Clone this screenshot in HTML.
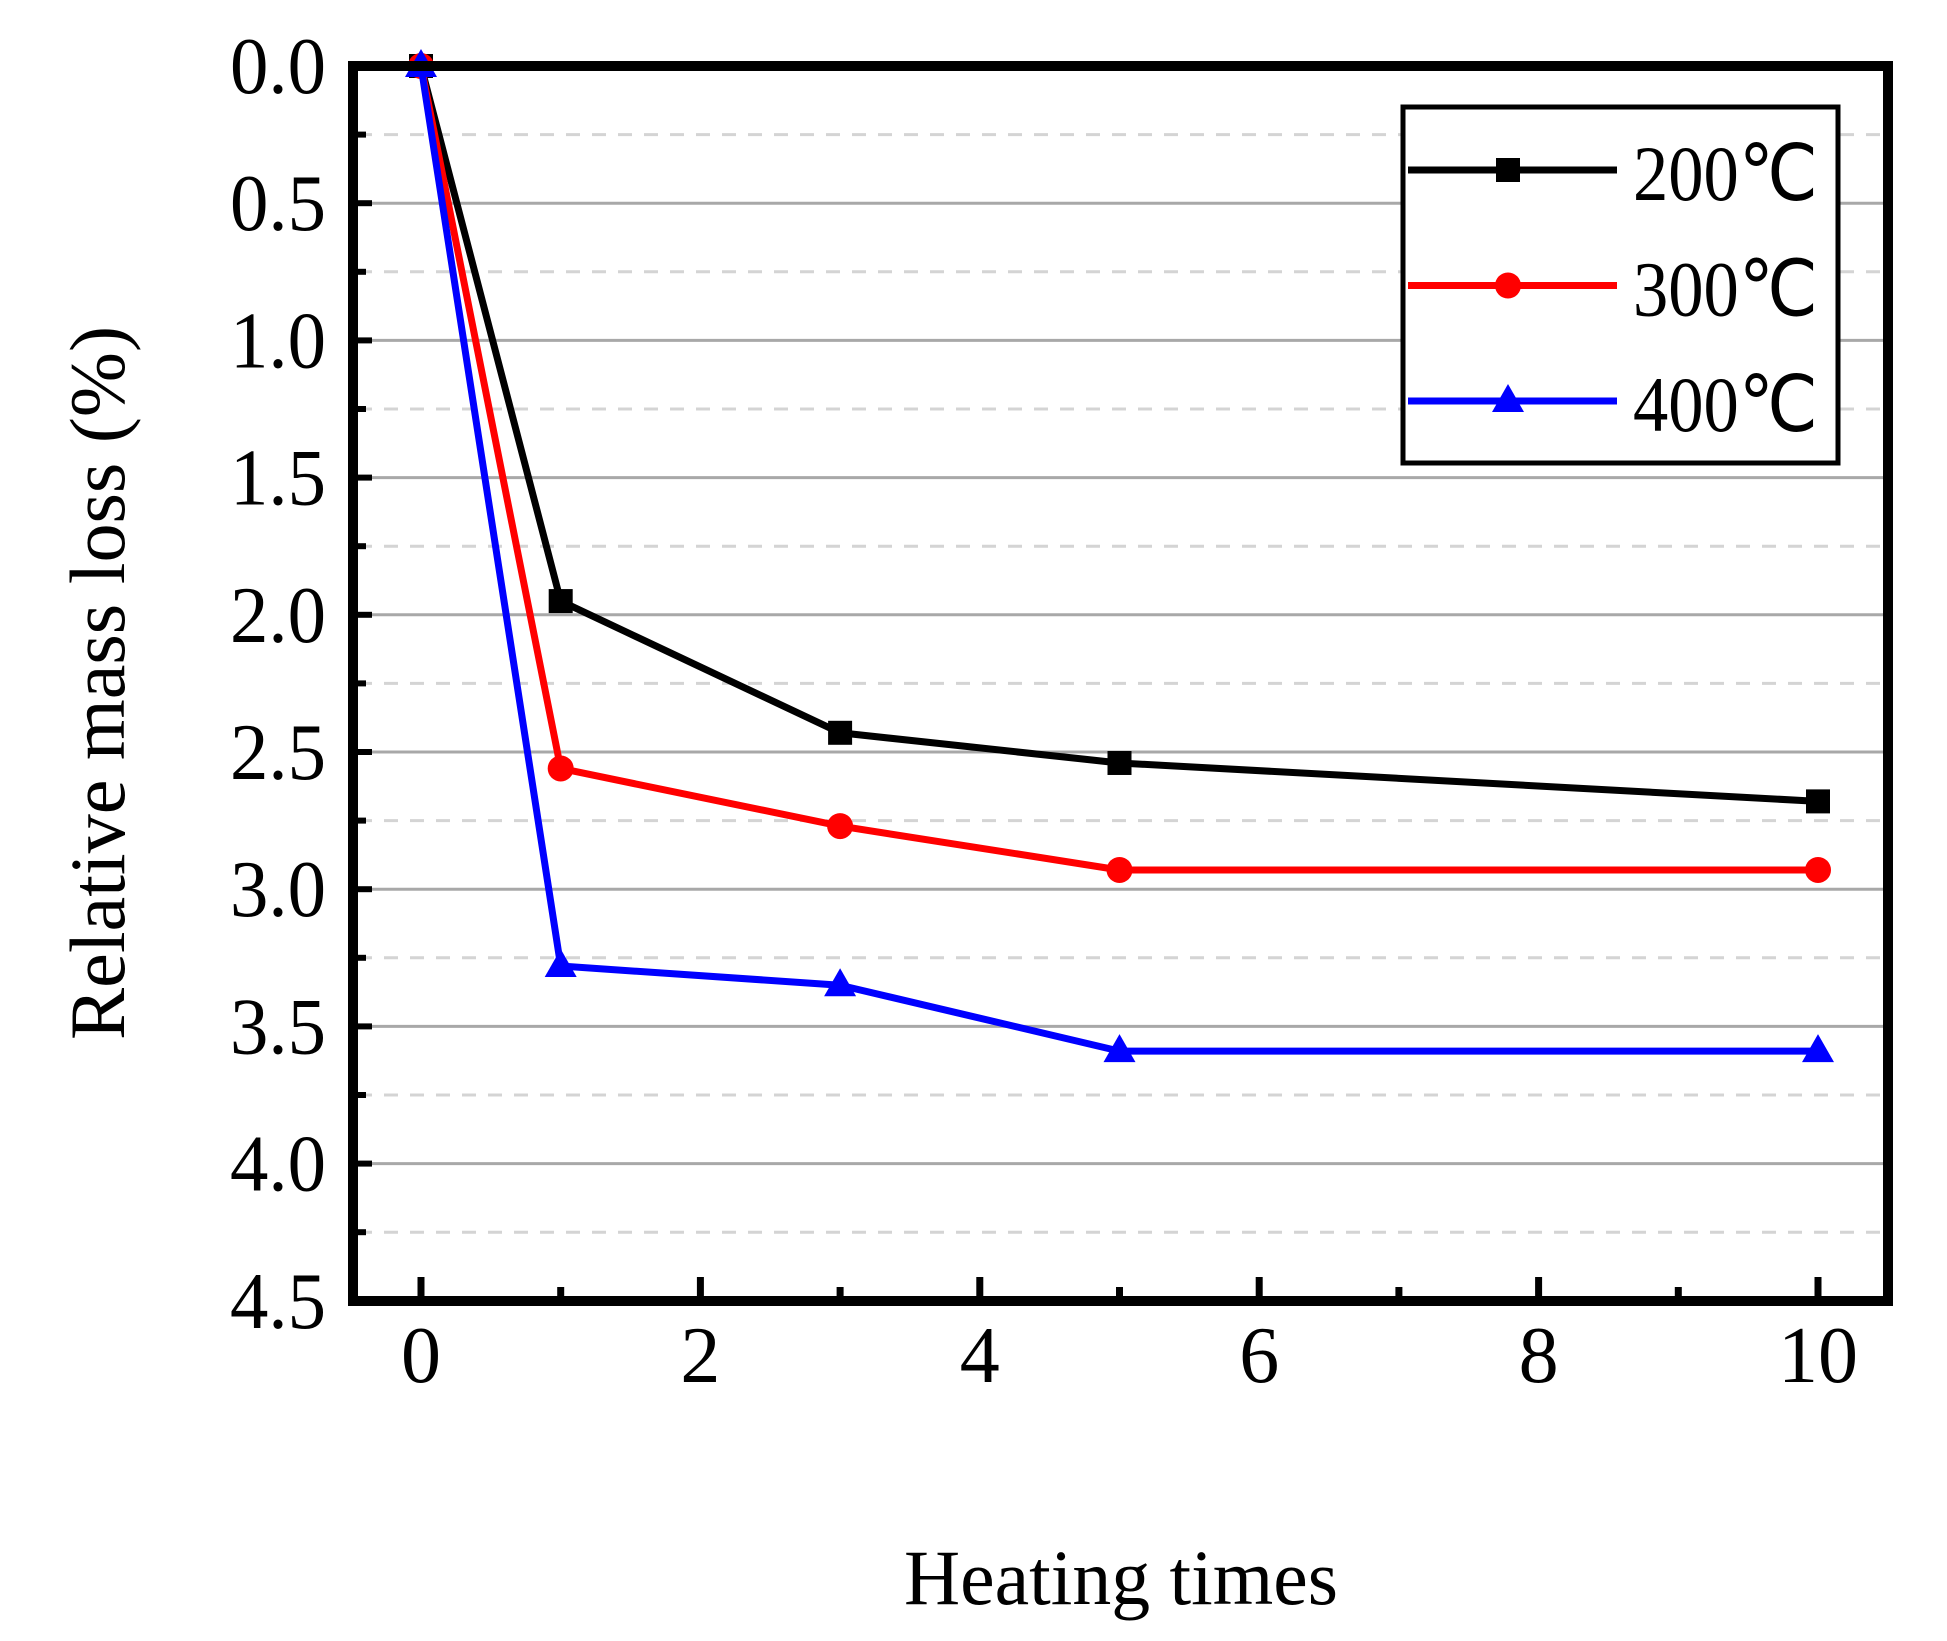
<!DOCTYPE html>
<html><head><meta charset="utf-8"><style>
html,body{margin:0;padding:0;background:#fff;}
svg{display:block;font-family:"Liberation Serif",serif;}
</style></head><body>
<svg id="chart" width="1947" height="1641" viewBox="0 0 1947 1641" xmlns="http://www.w3.org/2000/svg">
<g id="grid"></g>
<g id="series"></g>
<rect x="353" y="66" width="1535" height="1235" fill="none" stroke="#000" stroke-width="10"/>
<g id="ticks"></g>
<g>
<rect x="1403" y="107" width="435" height="356" fill="#fff" stroke="#000" stroke-width="5"/>
<g id="legend-entries"></g>
</g>
<text x="1121" y="1604" font-size="78" text-anchor="middle" textLength="434" lengthAdjust="spacingAndGlyphs">Heating times</text>
<text transform="translate(124,683) rotate(-90)" font-size="78" text-anchor="middle" textLength="714" lengthAdjust="spacingAndGlyphs">Relative mass loss (%)</text>
</svg>
<script>
const xValues = [0, 1, 3, 5, 10];
const s200 = [0, 1.95, 2.43, 2.54, 2.68];
const s300 = [0, 2.56, 2.77, 2.93, 2.93];
const s400 = [0, 3.28, 3.35, 3.59, 3.59];
const seriesNames = ["200℃", "300℃", "400℃"];
const xTickLabels = ["0", "2", "4", "6", "8", "10"];
const yTickLabels = ["0.0", "0.5", "1.0", "1.5", "2.0", "2.5", "3.0", "3.5", "4.0", "4.5"];

const NS = "http://www.w3.org/2000/svg";
function xs(v){ return 421 + v * 139.7; }
function ys(v){ return 66 + v * 274.4; }
function mk(tag, attrs, parent){
  const e = document.createElementNS(NS, tag);
  for (const k in attrs) e.setAttribute(k, attrs[k]);
  parent.appendChild(e); return e;
}
const grid = document.getElementById('grid');
const ticks = document.getElementById('ticks');
const ser = document.getElementById('series');

for (let i = 1; i < 18; i++) {
  const v = i * 0.25;
  const major = i % 2 === 0;
  const l = mk('line', {x1: 358, x2: 1883, y1: ys(v), y2: ys(v), stroke: major ? '#a8a8a8' : '#d4d4d4', 'stroke-width': 3, 'stroke-dasharray': major ? '' : '14 12'}, grid);
  
  
  const t = mk('line', {x1: 358, x2: major ? 372 : 366, y1: ys(v), y2: ys(v), stroke: '#000', 'stroke-width': 6}, ticks);
  
  
}
yTickLabels.forEach((lab, i) => {
  const t = mk('text', {x: 326, y: ys(i * 0.5) + 27, 'font-size': 80, 'text-anchor': 'end', textLength: 96, lengthAdjust: 'spacingAndGlyphs'}, ticks);
  t.textContent = lab;
  
  
});
for (let v = 0; v <= 10; v++) {
  const major = v % 2 === 0;
  const t = mk('line', {x1: xs(v), x2: xs(v), y1: 1296, y2: major ? 1277 : 1287, stroke: '#000', 'stroke-width': 7}, ticks);
  
  
}
xTickLabels.forEach((lab) => {
  const t = mk('text', {x: xs(+lab), y: 1382, 'font-size': 80, 'text-anchor': 'middle'}, ticks);
  t.textContent = lab;
  
  
});

function marker(shape, cx, cy, color, parent){
  let e;
  if (shape === 'square') e = mk('rect', {x: cx - 12, y: cy - 12, width: 24, height: 24, fill: color}, parent);
  else if (shape === 'circle') e = mk('circle', {cx: cx, cy: cy, r: 13, fill: color}, parent);
  else e = mk('polygon', {points: `${cx},${cy-17} ${cx+16},${cy+11} ${cx-16},${cy+11}`, fill: color}, parent);
  return e;
}
const defs = [[s200, '#000', 'square', 'series-200c'], [s300, '#ff0000', 'circle', 'series-300c'], [s400, '#0000ff', 'triangle', 'series-400c']];
defs.forEach(([vals, color, shape, name]) => {
  const g = mk('g', {}, ser);
  
  
  const pts = vals.map((v, i) => xs(xValues[i]) + ',' + ys(v)).join(' ');
  const pl = mk('polyline', {points: pts, fill: 'none', stroke: color, 'stroke-width': 7, 'stroke-linejoin': 'round'}, g);
  
  
  vals.forEach((v, i) => {
    const m = marker(shape, xs(xValues[i]), ys(v), color, g);
    
    
  });
});

const le = document.getElementById('legend-entries');
defs.forEach(([vals, color, shape, name], i) => {
  const y = 170 + i * 115.5;
  const g = mk('g', {}, le);
  
  
  mk('line', {x1: 1408, x2: 1617, y1: y, y2: y, stroke: color, 'stroke-width': 7}, g);
  marker(shape, 1508, y, color, g);
  const t = mk('text', {x: 1633, y: y + 30, 'font-size': 78, textLength: 185, lengthAdjust: 'spacingAndGlyphs'}, g);
  t.textContent = seriesNames[i];
});
</script>
</body></html>
